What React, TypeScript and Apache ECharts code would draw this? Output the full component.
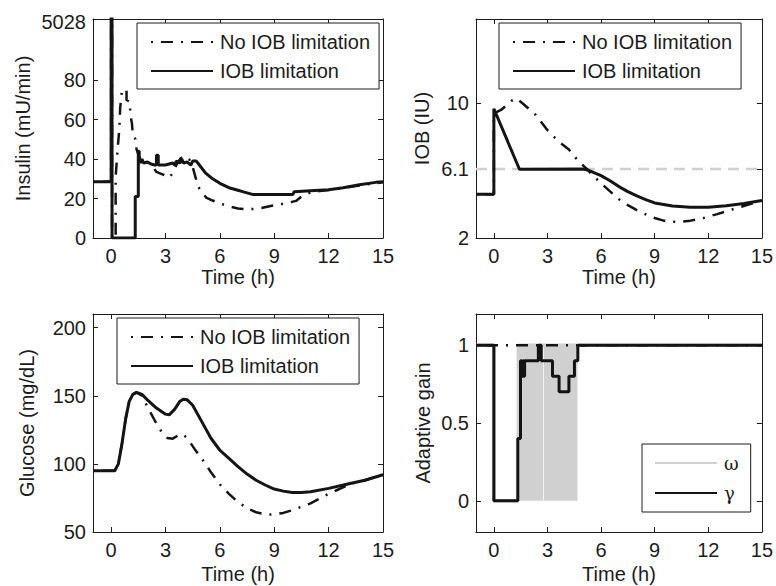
import React, { useEffect, useRef } from 'react';
import * as echarts from 'echarts';

// ---------- shared axis data ----------
const X_MIN = -1;
const X_MAX = 15;
const timeTicks = [0, 3, 6, 9, 12, 15];

// ---------- Insulin (mU/min) ----------
const insulinTicks = [0, 20, 40, 60, 80];
const insulinAxisMax = 111; // broken axis top
const insulinTopLabelAt = 109.5;
const insulinTopLabel = '5028';
const insulinNoIob: [number, number][] = [
  [-1, 28.5], [0, 28.5], [0, 5028], [0.05, 5028], [0.05, 0], [0.25, 0], [0.25, 31], [0.35, 44], [0.45, 55],
  [0.5, 66], [0.6, 75], [0.85, 75], [0.85, 70], [1.05, 69], [1.05, 63], [1.15, 58], [1.2, 52], [1.35, 50],
  [1.4, 45], [1.55, 41], [1.8, 39], [2.1, 38], [2.3, 36], [2.5, 33.5], [2.9, 32], [3.2, 30.5], [3.4, 33],
  [3.6, 37], [3.8, 40], [4.0, 41.5], [4.3, 40], [4.5, 36], [4.65, 31], [4.8, 26], [5.0, 23.5], [5.24, 20.5],
  [5.6, 19], [6.0, 17.6], [6.5, 16], [7.0, 15], [7.4, 14.6], [8.0, 14.8], [8.3, 15.2], [8.8, 16.2],
  [9.6, 17.5], [10.2, 18.8], [10.5, 21], [11.05, 23.3], [11.5, 23.8], [12, 24.3], [12.5, 24.9], [13, 25.6],
  [13.5, 26.3], [14, 27], [14.5, 27.6], [15, 28.2],
];
const insulinIob: [number, number][] = [
  [-1, 28.5], [0, 28.5], [0, 5028], [0.05, 5028], [0.05, 0], [1.33, 0], [1.33, 21], [1.5, 21], [1.5, 44],
  [1.55, 44], [1.55, 40], [1.6, 38], [1.7, 40], [1.8, 38], [2.0, 38.5], [2.2, 37.5], [2.4, 37], [2.5, 37],
  [2.5, 42], [2.6, 42], [2.6, 37], [3.0, 37], [3.2, 37.5], [3.4, 38], [3.5, 37], [3.6, 39], [3.8, 38],
  [3.9, 40], [4.0, 38], [4.2, 38.5], [4.4, 37], [4.5, 39], [4.7, 39], [4.87, 37], [5.2, 33], [5.6, 30],
  [6.0, 27.7], [6.5, 25.5], [7.0, 24.2], [7.3, 23.4], [7.8, 22.1], [10.03, 22.1], [10.1, 23.5], [11, 24],
  [12, 24.5], [12.8, 25.5], [13.7, 27], [14.6, 28.2], [15, 28.5],
];

// ---------- IOB (IU) ----------
const iobTicks = [2, 6.1, 10];
const iobLimit = 6.1;
const iobNoIob: [number, number][] = [
  [-1, 4.6], [0, 4.6], [0, 9.4], [0.4, 9.6], [1.0, 10.15], [1.25, 10.3], [1.6, 10.0], [2.35, 9.3], [3.0, 8.4],
  [3.55, 7.8], [4.2, 7.25], [4.7, 6.6], [5.2, 6.1], [5.6, 5.65], [6.1, 5.15], [7.0, 4.3], [7.5, 3.95],
  [8.0, 3.65], [8.8, 3.25], [9.5, 3.03], [10, 2.97], [10.5, 2.97], [11, 3.03], [11.7, 3.18], [12.5, 3.42],
  [13.6, 3.78], [14.3, 4.0], [15, 4.22],
];
const iobIob: [number, number][] = [
  [-1, 4.6], [0, 4.6], [0, 9.67], [1.43, 6.08], [5.0, 6.1], [5.3, 6.02], [6.0, 5.7], [6.5, 5.4], [7.0, 5.05],
  [7.5, 4.75], [8.0, 4.5], [8.5, 4.28], [9.0, 4.08], [10, 3.9], [11, 3.82], [12, 3.83], [13, 3.92],
  [14, 4.05], [15, 4.22],
];

// ---------- Glucose (mg/dL) ----------
const glucoseTicks = [50, 100, 150, 200];
const glucoseNoIob: [number, number][] = [
  [-1, 95], [0, 95], [0.2, 95], [0.4, 100], [0.6, 115], [0.8, 133], [1.0, 146], [1.2, 151], [1.4, 152.5],
  [1.7, 150], [2.0, 142], [2.4, 132], [2.8, 123], [3.1, 119], [3.4, 118.5], [3.7, 121], [3.9, 122],
  [4.2, 119], [4.6, 111], [5.0, 104], [5.5, 94], [6.0, 85], [6.5, 78], [7.0, 72], [7.5, 67.5], [8.0, 64.5],
  [8.6, 62.7], [9.0, 63], [9.5, 64], [10, 66], [10.5, 68.5], [11, 71], [11.5, 74.5], [12, 78], [12.5, 81],
  [13, 84], [13.5, 86.5], [14, 88], [15, 92],
];
const glucoseIob: [number, number][] = [
  [-1, 95], [0, 95], [0.2, 95], [0.4, 100], [0.6, 115], [0.8, 133], [1.0, 146], [1.2, 151], [1.4, 152.5],
  [1.7, 151], [2.0, 147], [2.5, 141], [3.0, 136.5], [3.2, 136], [3.5, 140], [3.8, 146], [4.0, 147.5],
  [4.2, 147], [4.5, 143], [5.0, 131], [5.5, 119], [6.0, 110], [6.5, 104], [7.0, 98], [7.5, 92.5], [8.0, 88],
  [8.5, 84.5], [9.0, 81.5], [9.5, 80], [10, 79], [10.5, 79], [11, 79.5], [12, 82], [13, 85], [14, 88],
  [15, 92],
];

// ---------- Adaptive gain ----------
const gainTicks = [0, 0.5, 1];
const omegaGain: [number, number][] = [
  [-1, 1], [0, 1], [0, 0], [1.37, 0], [1.37, 1], [15, 1],
];
const omegaBands: [number, number][] = [[1.37, 2.76], [2.8, 4.68]];
const gammaNoIob: [number, number][] = [[-1, 1], [15, 1]];
const gammaGain: [number, number][] = [
  [-1, 1], [0, 1], [0, 0], [1.34, 0], [1.34, 0.4], [1.49, 0.4], [1.49, 0.9], [1.55, 0.9], [1.55, 0.8],
  [1.62, 0.8], [1.62, 0.9], [1.66, 0.9], [1.66, 0.8], [1.72, 0.8], [1.72, 0.9], [2.49, 0.9], [2.49, 1],
  [2.65, 1], [2.65, 0.9], [3.28, 0.9], [3.28, 0.8], [3.65, 0.8], [3.65, 0.7], [4.2, 0.7], [4.2, 0.8],
  [4.51, 0.8], [4.51, 0.9], [4.7, 0.9], [4.7, 1], [15, 1],
];

const FONT = "'Liberation Sans', Arial, Helvetica, sans-serif";
const INK = '#1c1c1c';
const LINE = '#141414';
const GREY = '#d0d0d0';
const DASH_DOT = [2, 8, 12, 8];

const NAME_NO = 'No IOB limitation';
const NAME_IOB = 'IOB limitation';

export default function App() {
  const ref = useRef<HTMLDivElement>(null);

  useEffect(() => {
    document.body.style.margin = '0';
    if (!ref.current) return;
    const chart = echarts.init(ref.current, undefined, { renderer: 'svg' });

    const grids = [
      { left: 93, top: 19, width: 290, height: 219 },
      { left: 476, top: 19, width: 290, height: 219 },
      { left: 93, top: 314, width: 290, height: 218 },
      { left: 476, top: 314, width: 290, height: 218 },
    ];
    const yCfg = [
      { min: 0, max: insulinAxisMax, ticks: insulinTicks, labels: [...insulinTicks, insulinTopLabelAt], name: 'Insulin (mU/min)', gap: 60 },
      { min: 2, max: 15, ticks: iobTicks, labels: iobTicks, name: 'IOB (IU)', gap: 44 },
      { min: 50, max: 210, ticks: glucoseTicks, labels: glucoseTicks, name: 'Glucose (mg/dL)', gap: 56 },
      { min: -0.2, max: 1.2, ticks: gainTicks, labels: gainTicks, name: 'Adaptive gain', gap: 43 },
    ];
    const xGap = [22, 22, 32, 32];

    const axisLine = { show: true, onZero: false, lineStyle: { color: INK, width: 1 } };
    const tick = (vals: number[]) => ({ show: true, inside: true, length: 5, customValues: vals, lineStyle: { color: INK, width: 1 } });

    const xAxis: any[] = [];
    const yAxis: any[] = [];
    grids.forEach((_, i) => {
      xAxis.push({
        type: 'value', gridIndex: i, min: X_MIN, max: X_MAX, position: 'bottom',
        axisLine, axisTick: tick(timeTicks), splitLine: { show: false },
        axisLabel: { customValues: timeTicks, color: INK, fontSize: 20, fontFamily: FONT, margin: 8 },
        name: 'Time (h)', nameLocation: 'middle', nameGap: xGap[i],
        nameTextStyle: { color: INK, fontSize: 20, fontFamily: FONT },
      });
      const c = yCfg[i];
      yAxis.push({
        type: 'value', gridIndex: i, min: c.min, max: c.max, position: 'left',
        axisLine, axisTick: tick(c.ticks), splitLine: { show: false },
        axisLabel: {
          customValues: c.labels, color: INK, fontSize: 20, fontFamily: FONT, margin: 7,
          formatter: (v: number) => (i === 0 && v === insulinTopLabelAt ? insulinTopLabel : String(v)),
        },
        name: c.name, nameLocation: 'middle', nameGap: c.gap,
        nameTextStyle: { color: INK, fontSize: 20, fontFamily: FONT },
      });
    });
    grids.forEach((_, i) => {
      xAxis.push({
        type: 'value', gridIndex: i, min: X_MIN, max: X_MAX, position: 'top',
        axisLine, axisTick: tick(timeTicks), axisLabel: { show: false }, splitLine: { show: false },
      });
      const c = yCfg[i];
      yAxis.push({
        type: 'value', gridIndex: i, min: c.min, max: c.max, position: 'right',
        axisLine, axisTick: tick(c.ticks), axisLabel: { show: false }, splitLine: { show: false },
      });
    });

    const dashDot = (name: string, data: [number, number][], i: number, z = 2) => ({
      type: 'line', name, data, xAxisIndex: i, yAxisIndex: i, symbol: 'none', z,
      lineStyle: { color: LINE, width: 2.5, type: DASH_DOT }, itemStyle: { color: LINE },
    });
    const solid = (name: string, data: [number, number][], i: number, z = 3, color = LINE, width = 3) => ({
      type: 'line', name, data, xAxisIndex: i, yAxisIndex: i, symbol: 'none', z,
      lineStyle: { color, width }, itemStyle: { color },
    });

    const series: any[] = [
      dashDot(NAME_NO, insulinNoIob, 0),
      solid(NAME_IOB, insulinIob, 0),
      {
        type: 'line', name: 'IOB threshold', xAxisIndex: 1, yAxisIndex: 1, symbol: 'none', z: 1,
        data: [[X_MIN, iobLimit], [X_MAX, iobLimit]],
        lineStyle: { color: GREY, width: 2.5, type: [11, 7] },
      },
      dashDot(NAME_NO, iobNoIob, 1),
      solid(NAME_IOB, iobIob, 1),
      dashDot(NAME_NO, glucoseNoIob, 2),
      solid(NAME_IOB, glucoseIob, 2),
      {
        ...solid('ω', omegaGain, 3, 1, GREY, 3.5),
        markArea: {
          silent: true,
          itemStyle: { color: GREY },
          data: omegaBands.map(([a, b]) => [{ xAxis: a, yAxis: 0 }, { xAxis: b, yAxis: 1 }]),
        },
      },
      dashDot('γ without IOB limitation', gammaNoIob, 3, 2),
      solid('γ', gammaGain, 3, 3),
    ];

    const legendBase = {
      orient: 'vertical', selectedMode: false, itemWidth: 62, itemHeight: 2, itemGap: 9,
      padding: [9, 9, 8, 13], borderColor: INK, borderWidth: 1, backgroundColor: '#fff',
      itemStyle: { opacity: 0, borderWidth: 0 },
      textStyle: { color: INK, fontSize: 20, fontFamily: FONT, padding: [0, 0, 0, 2], lineHeight: 20 },
    };

    chart.setOption({
      animation: false,
      backgroundColor: '#fff',
      grid: grids.map((g) => ({ ...g, containLabel: false })),
      xAxis,
      yAxis,
      legend: [
        { ...legendBase, data: [NAME_NO, NAME_IOB], left: 137, top: 23 },
        { ...legendBase, data: [NAME_NO, NAME_IOB], left: 499, top: 23 },
        { ...legendBase, data: [NAME_NO, NAME_IOB], left: 117, top: 318 },
        {
          ...legendBase, data: ['ω', 'γ'], left: 642, top: 444, itemGap: 10, padding: [9, 12, 9, 12],
          textStyle: { color: INK, fontSize: 18, lineHeight: 20, fontFamily: "'DejaVu Serif', 'Liberation Serif', serif", padding: [0, 0, 0, 2] },
        },
      ],
      series,
    });

    return () => chart.dispose();
  }, []);

  return <div ref={ref} style={{ width: 776, height: 586, position: 'absolute', left: 0, top: 0 }} />;
}
